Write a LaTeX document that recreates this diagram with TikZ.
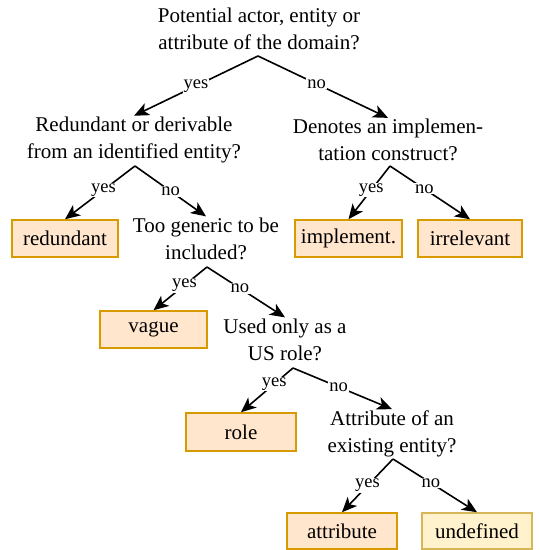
\documentclass[tikz,border=0pt]{standalone}
\usepackage{fontspec}
\setmainfont{Liberation Serif}
\usetikzlibrary{arrows.meta}
\definecolor{boxfill}{HTML}{FFE6CC}
\definecolor{boxdraw}{HTML}{D79B00}
\definecolor{undfill}{HTML}{FFF2CC}
\definecolor{unddraw}{HTML}{D6B656}
\begin{document}
\begin{tikzpicture}[x=1pt,y=-1pt,
  question/.style={align=center, font=\fontsize{21}{27}\selectfont, inner sep=1pt},
  outcome/.style={draw=boxdraw, fill=boxfill, line width=1.5pt, font=\fontsize{21}{27}\selectfont,
    minimum height=37pt, inner sep=0pt},
  undef/.style={outcome, draw=unddraw, fill=undfill},
  conn/.style={-{Stealth[length=15pt,width=13pt,inset=4pt]}, line width=1.6pt},
  lbl/.style={fill=white, inner sep=1pt, font=\fontsize{18.5}{20}\selectfont}
]
\useasboundingbox (0,0) rectangle (540,550);

% questions
\node[question] (q1) at (259,28.5) {Potential actor, entity or\\attribute of the domain?};
\node[question] (q2) at (134,140) {Redundant or derivable\\from an identified entity?};
\node[question] (q3) at (388,140) {Denotes an implemen-\\tation construct?};
\node[question] (q4) at (206,238.5) {Too generic to be\\included?};
\node[question] (q5) at (285,339.5) {Used only as a\\US role?};
\node[question] (q6) at (392,433.5) {Attribute of an\\existing entity?};

% outcomes
\node[outcome, minimum width=106pt] (redundant) at (65,238.5) {redundant};
\node[outcome, minimum width=107pt] (implement) at (348.5,238.5) {implement.};
\node[outcome, minimum width=104pt] (irrelevant) at (470,238.5) {irrelevant};
\node[outcome, minimum width=107pt] (vague) at (153.5,329.5) {vague};
\node[outcome, minimum width=110pt, minimum height=38pt] (role) at (241,432) {role};
\node[outcome, minimum width=110pt, minimum height=36pt] (attribute) at (342,531) {attribute};
\node[undef, minimum width=110pt, minimum height=36pt] (undefined) at (477,531) {undefined};

% apexes
\coordinate (a1) at (258,56);
\coordinate (a2) at (135,166);
\coordinate (a3) at (390,166);
\coordinate (a4) at (207,267);
\coordinate (a5) at (293,368);
\coordinate (a6) at (393,459);

% connectors
\draw[conn] (a1) -- node[lbl, pos=0.5]{yes} (q2.north);
\draw[conn] (a1) -- node[lbl, pos=0.45]{no} (q3.north);
\draw[conn] (a2) -- node[lbl, pos=0.45]{yes} (redundant.north);
\draw[conn] (a2) -- node[lbl, pos=0.5]{no} (q4.north);
\draw[conn] (a3) -- node[lbl, pos=0.45]{yes} (implement.north);
\draw[conn] (a3) -- node[lbl, pos=0.43]{no} (irrelevant.north);
\draw[conn] (a4) -- node[lbl, pos=0.42]{yes} (vague.north);
\draw[conn] (a4) -- node[lbl, pos=0.42]{no} (q5.north);
\draw[conn] (a5) -- node[lbl, pos=0.36]{yes} (role.north);
\draw[conn] (a5) -- node[lbl, pos=0.46]{no} (q6.north);
\draw[conn] (a6) -- node[lbl, pos=0.5]{yes} (attribute.north);
\draw[conn] (a6) -- node[lbl, pos=0.45]{no} (undefined.north);
\end{tikzpicture}
\end{document}
